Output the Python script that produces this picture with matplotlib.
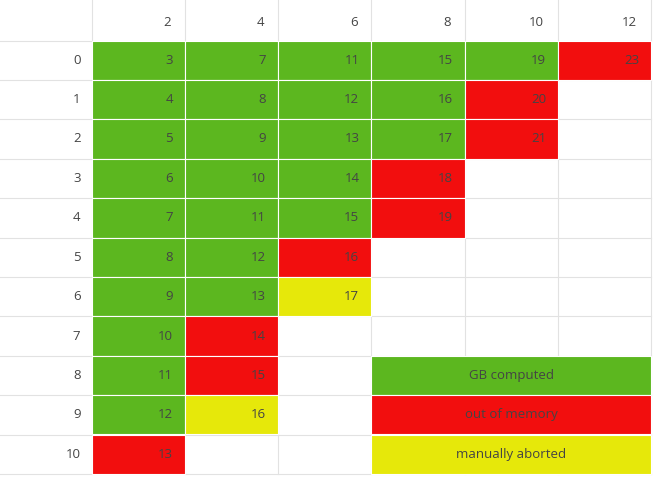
import matplotlib
matplotlib.use("Agg")
import matplotlib.pyplot as plt
from matplotlib.patches import Rectangle

cols = [2, 4, 6, 8, 10, 12]
rows = list(range(11))
status = [
    "GGGGGR", "GGGGR.", "GGGGR.", "GGGR..", "GGGR..", "GGR...",
    "GGY...", "GR....", "GR....", "GY....", "R.....",
]
legend_labels = ["GB computed", "out of memory", "manually aborted"]
legend_keys = ["G", "R", "Y"]
colors = {"G": "#5cb71f", "R": "#f20e0e", "Y": "#e6e80a"}

W, H = 671, 493
fig = plt.figure(figsize=(W / 100, H / 100), dpi=100)
ax = fig.add_axes([0, 0, 1, 1])
ax.set_xlim(0, W); ax.set_ylim(H, 0); ax.axis("off")
plt.rcParams["font.family"] = ["Open Sans", "DejaVu Sans"]

x0, cw = 91.5, 93.3
y0, rh = 40.5, 39.4
tc = "#444444"
fs = 9.5
grid = "#e2e2e2"

# grid lines
for j in range(len(cols) + 1):
    ax.plot([x0 + j * cw] * 2, [0, y0 + len(rows) * rh], color=grid, lw=0.8, zorder=1)
for i in range(len(rows) + 1):
    ax.plot([0, x0 + len(cols) * cw], [y0 + i * rh] * 2, color=grid, lw=0.8, zorder=1)

for j, c in enumerate(cols):
    ax.text(x0 + (j + 1) * cw - 14, y0 / 2 + 2, str(c), ha="right", va="center", fontsize=fs, color=tc)
for i, r in enumerate(rows):
    ax.text(x0 - 11, y0 + i * rh + rh / 2, str(r), ha="right", va="center", fontsize=fs, color=tc)
    for j, c in enumerate(cols):
        s = status[i][j]
        if s == ".":
            continue
        ax.add_patch(Rectangle((x0 + j * cw, y0 + i * rh), cw, rh, facecolor=colors[s],
                               edgecolor="white", lw=0.8, zorder=2))
        ax.text(x0 + (j + 1) * cw - 12, y0 + i * rh + rh / 2, str(2 * c - 1 + r),
                ha="right", va="center", fontsize=fs, color=tc, zorder=3)

for k, (lab, key) in enumerate(zip(legend_labels, legend_keys)):
    i = 8 + k
    ax.add_patch(Rectangle((x0 + 3 * cw, y0 + i * rh), 3 * cw, rh, facecolor=colors[key],
                           edgecolor="white", lw=0.8, zorder=2))
    ax.text(x0 + 4.5 * cw, y0 + i * rh + rh / 2, lab, ha="center", va="center",
            fontsize=fs, color=tc, zorder=3)

fig.savefig("out.png", dpi=100)
